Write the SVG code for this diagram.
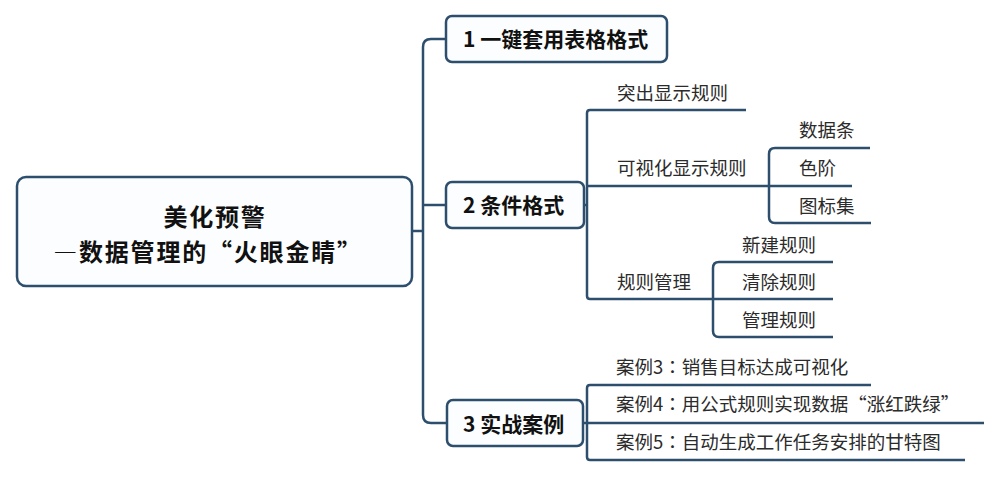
<svg xmlns="http://www.w3.org/2000/svg" width="1002" height="477" viewBox="0 0 1002 477">
<style>
.box{fill:#fbfdfe;stroke:#2d4f6d;stroke-width:2.5}
.ln{fill:none;stroke:#2d4f6d;stroke-width:2.5;stroke-linecap:butt}
.root{font-family:"Noto Sans CJK SC","Noto Sans CJK TC",sans-serif;font-weight:bold;font-size:24px;letter-spacing:1.8px;fill:#111;text-anchor:middle}
.main{font-family:"Noto Sans CJK SC",sans-serif;font-weight:bold;font-size:21px;fill:#111}
.leaf{font-family:"Noto Sans CJK SC",sans-serif;font-size:18.5px;fill:#2b2b2b}
.fw{font-feature-settings:"fwid" 1}
.cn{font-family:"Noto Sans CJK TC",sans-serif}
</style>
<rect width="1002" height="477" fill="#ffffff"/>
<g id="connectors">
<path class="ln" d="M413,231 H423"/>
<path class="ln" d="M446,39 H431 Q423,39 423,47 V415 Q423,423 431,423 H447"/>
<path class="ln" d="M423,205 H446"/>
<path class="ln" d="M746,110 H590 Q587,110 587,113 V296 Q587,299 590,299 H833"/>
<path class="ln" d="M584,205 H587"/>
<path class="ln" d="M587,186 H852"/>
<path class="ln" d="M870,148 H775 Q769,148 769,154 V217 Q769,223 775,223 H871"/>
<path class="ln" d="M833,262 H719 Q713,262 713,268 V331 Q713,337 719,337 H833"/>
<path class="ln" d="M871,385 H590 Q587,385 587,388 V457 Q587,460 590,460 H965"/>
<path class="ln" d="M583,423 H984"/>
</g>
<g id="root">
<rect class="box" x="17" y="177" width="395" height="109" rx="9"/>
<text class="root" x="215" y="226">美化预警</text>
<text class="root" x="208" y="261"><tspan class="fw">—</tspan>数据管理的“火眼金睛”</text>
</g>
<g id="n1">
<rect class="box" x="446" y="16" width="221" height="46" rx="6"/>
<text class="main" x="463" y="47">1 一键套用表格格式</text>
</g>
<g id="n2">
<rect class="box" x="446" y="182" width="138" height="46" rx="6"/>
<text class="main" x="463" y="213">2 条件格式</text>
</g>
<g id="n3">
<rect class="box" x="447" y="400" width="136" height="46" rx="6"/>
<text class="main" x="463" y="432">3 实战案例</text>
</g>
<g id="n2-1"><text class="leaf" x="617" y="100">突出显示规则</text></g>
<g id="n2-2"><text class="leaf" x="617" y="175">可视化显示规则</text></g>
<g id="n2-2-1"><text class="leaf" x="799" y="137">数据条</text></g>
<g id="n2-2-2"><text class="leaf" x="799" y="175">色阶</text></g>
<g id="n2-2-3"><text class="leaf" x="799" y="213">图标集</text></g>
<g id="n2-3"><text class="leaf" x="617" y="289">规则管理</text></g>
<g id="n2-3-1"><text class="leaf" x="742" y="252">新建规则</text></g>
<g id="n2-3-2"><text class="leaf" x="742" y="289">清除规则</text></g>
<g id="n2-3-3"><text class="leaf" x="742" y="327">管理规则</text></g>
<g id="n3-1"><text class="leaf" x="616" y="374">案例3<tspan class="cn">：</tspan>销售目标达成可视化</text></g>
<g id="n3-2"><text class="leaf" x="616" y="411">案例4<tspan class="cn">：</tspan>用公式规则实现数据“涨红跌绿”</text></g>
<g id="n3-3"><text class="leaf" x="616" y="449">案例5<tspan class="cn">：</tspan>自动生成工作任务安排的甘特图</text></g>
</svg>
